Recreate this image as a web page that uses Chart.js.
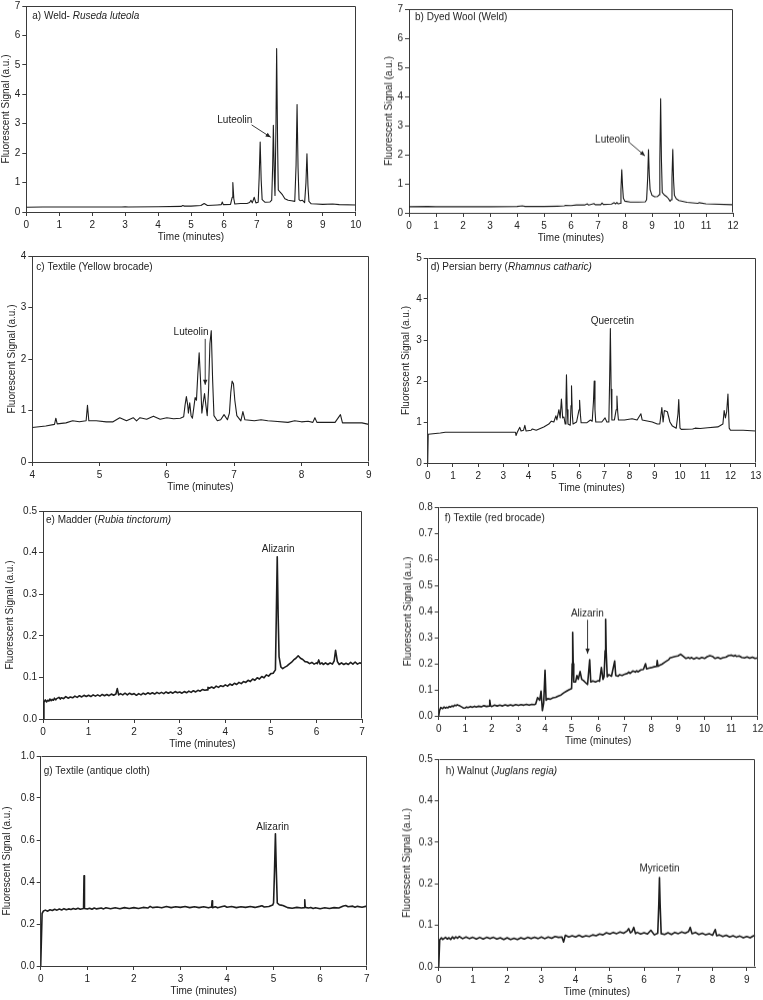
<!DOCTYPE html>
<html><head><meta charset="utf-8">
<script src="https://cdn.jsdelivr.net/npm/chart.js@4/dist/chart.umd.min.js"></script>
<style>
html,body{margin:0;padding:0;background:#fff;width:763px;height:1000px;overflow:hidden;position:relative}
canvas{position:absolute}
</style></head><body>
<script>
// ---------- tick labels ----------
const ticks0to10 = [0,1,2,3,4,5,6,7,8,9,10];
const ticks0to12 = [0,1,2,3,4,5,6,7,8,9,10,11,12];
const ticks4to9 = [4,5,6,7,8,9];
const ticks0to13 = [0,1,2,3,4,5,6,7,8,9,10,11,12,13];
const ticks0to7 = [0,1,2,3,4,5,6,7];
const ticks0to9 = [0,1,2,3,4,5,6,7,8,9];
const yTicks7 = [0,1,2,3,4,5,6,7];
const yTicks4 = [0,1,2,3,4];
const yTicks5 = [0,1,2,3,4,5];
const yTicksHalf = [0,0.1,0.2,0.3,0.4,0.5];
const yTicks08 = [0,0.1,0.2,0.3,0.4,0.5,0.6,0.7,0.8];
const yTicks1 = [0,0.2,0.4,0.6,0.8,1.0];

// ---------- series: [time (min), signal (a.u.)] ----------
const weld = [[0,0.16],[0.5,0.17],[1,0.17],[2,0.17],[2.9,0.17],[3,0.18],[3.1,0.17],[4,0.18],[4.7,0.19],[4.75,0.22],[4.8,0.2],[5,0.2],[5.3,0.22],[5.4,0.29],[5.5,0.22],[5.8,0.24],[5.92,0.25],[5.95,0.34],[5.98,0.25],[6.2,0.26],[6.25,0.5],[6.27,1.0],[6.3,0.45],[6.33,0.27],[6.5,0.29],[6.7,0.29],[6.78,0.32],[6.82,0.4],[6.86,0.31],[6.92,0.5],[6.97,0.31],[7.04,0.33],[7.07,1.2],[7.1,2.38],[7.13,1.1],[7.16,0.42],[7.25,0.33],[7.4,0.34],[7.45,0.4],[7.48,1.6],[7.5,2.95],[7.53,1.2],[7.55,0.56],[7.58,3.0],[7.6,5.55],[7.63,2.2],[7.65,0.75],[7.7,0.68],[7.78,0.58],[7.85,0.45],[7.95,0.4],[8.05,0.38],[8.15,0.36],[8.19,1.6],[8.22,3.65],[8.25,1.5],[8.28,0.42],[8.32,0.38],[8.38,0.4],[8.45,0.32],[8.49,1.0],[8.52,1.98],[8.55,0.9],[8.58,0.36],[8.65,0.28],[8.8,0.27],[9,0.26],[9.3,0.27],[9.5,0.25],[10,0.24]];

const dyedWool = [[0,0.21],[0.7,0.22],[1,0.21],[2,0.21],[3,0.21],[4,0.22],[4.2,0.24],[4.3,0.22],[5,0.22],[5.5,0.23],[5.75,0.24],[5.8,0.26],[6,0.25],[6.2,0.27],[6.5,0.27],[6.6,0.31],[6.65,0.27],[6.85,0.32],[6.9,0.28],[7.1,0.28],[7.15,0.34],[7.2,0.29],[7.5,0.3],[7.6,0.35],[7.65,0.31],[7.7,0.36],[7.75,0.31],[7.82,0.33],[7.85,0.8],[7.88,1.48],[7.91,0.9],[7.94,0.5],[8.0,0.4],[8.2,0.37],[8.5,0.37],[8.75,0.38],[8.8,0.45],[8.84,1.2],[8.87,2.17],[8.9,1.3],[8.93,0.8],[9.0,0.6],[9.1,0.55],[9.2,0.56],[9.26,0.62],[9.29,1.8],[9.32,3.92],[9.35,1.8],[9.38,0.7],[9.45,0.62],[9.55,0.55],[9.6,0.5],[9.67,0.4],[9.71,0.45],[9.74,1.2],[9.77,2.18],[9.8,1.1],[9.83,0.6],[9.9,0.48],[10,0.42],[10.3,0.36],[10.7,0.33],[10.75,0.35],[11,0.31],[12,0.28]];

const yellowBrocade = [[4.0,0.67],[4.2,0.7],[4.33,0.73],[4.35,0.85],[4.37,0.74],[4.5,0.76],[4.6,0.8],[4.7,0.78],[4.8,0.8],[4.82,1.1],[4.84,0.8],[4.95,0.8],[5.1,0.78],[5.2,0.78],[5.25,0.82],[5.3,0.86],[5.35,0.83],[5.4,0.8],[5.5,0.86],[5.55,0.8],[5.6,0.86],[5.7,0.83],[5.8,0.89],[5.9,0.83],[6.0,0.86],[6.1,0.84],[6.2,0.85],[6.25,0.88],[6.27,1.1],[6.29,1.27],[6.31,1.1],[6.32,0.95],[6.34,1.15],[6.36,0.9],[6.38,0.85],[6.4,1.05],[6.42,1.25],[6.44,1.2],[6.46,1.7],[6.48,2.12],[6.5,1.6],[6.52,0.95],[6.54,1.15],[6.56,1.33],[6.58,1.1],[6.6,0.9],[6.62,1.4],[6.64,2.3],[6.66,2.55],[6.68,1.6],[6.7,0.9],[6.75,0.8],[6.8,0.82],[6.85,0.92],[6.9,0.82],[6.93,0.95],[6.95,1.35],[6.97,1.57],[6.99,1.52],[7.01,1.2],[7.04,0.9],[7.1,0.8],[7.13,0.98],[7.16,0.82],[7.3,0.8],[7.4,0.82],[7.5,0.8],[7.6,0.79],[7.8,0.77],[7.9,0.8],[8.0,0.78],[8.1,0.79],[8.17,0.77],[8.2,0.86],[8.23,0.77],[8.5,0.77],[8.58,0.92],[8.61,0.76],[8.9,0.76],[9,0.73]];

const persianBerry = [[0,0],[0.02,0.7],[0.5,0.73],[0.7,0.75],[1,0.75],[2,0.75],[3,0.75],[3.48,0.75],[3.5,0.67],[3.55,0.75],[3.65,0.87],[3.7,0.78],[3.8,0.8],[3.85,0.92],[3.9,0.78],[4.1,0.8],[4.15,0.83],[4.3,0.8],[4.6,0.88],[4.8,0.95],[4.9,1.02],[5.0,1.0],[5.08,1.15],[5.12,1.05],[5.2,1.3],[5.25,1.1],[5.3,1.56],[5.35,1.1],[5.4,1.12],[5.45,0.95],[5.48,1.5],[5.5,2.15],[5.53,1.3],[5.56,0.95],[5.65,0.92],[5.68,1.4],[5.7,1.88],[5.73,1.2],[5.76,0.95],[5.9,1.0],[6.0,1.3],[6.02,1.53],[6.05,1.2],[6.08,0.98],[6.3,0.98],[6.45,1.05],[6.52,1.02],[6.57,1.5],[6.6,2.0],[6.63,1.3],[6.66,1.0],[6.9,1.0],[7.03,1.1],[7.1,1.0],[7.18,1.0],[7.21,2.0],[7.24,3.28],[7.27,1.8],[7.3,1.05],[7.4,1.05],[7.47,1.3],[7.5,1.63],[7.53,1.25],[7.56,1.05],[7.8,1.05],[8.1,1.08],[8.3,1.05],[8.45,1.2],[8.5,1.05],[8.9,1.0],[9.1,0.95],[9.2,0.95],[9.28,1.35],[9.33,1.0],[9.38,1.28],[9.5,1.25],[9.6,1.0],[9.7,0.9],[9.85,0.85],[9.92,1.2],[9.95,1.55],[9.98,1.1],[10.0,0.85],[10.05,0.82],[10.5,0.83],[10.6,0.85],[10.8,0.84],[11.1,0.86],[11.5,0.88],[11.7,0.95],[11.75,1.28],[11.8,1.1],[11.85,1.25],[11.9,1.68],[11.95,0.85],[12.0,0.8],[12.5,0.8],[13,0.78]];

const madder = [[0,0],[0.02,0.040],[0.05,0.046],[0.08,0.041],[0.1,0.045],[0.13,0.043],[0.15,0.048],[0.18,0.044],[0.2,0.047],[0.23,0.045],[0.25,0.050],[0.28,0.046],[0.3,0.049],[0.35,0.052],[0.38,0.048],[0.4,0.051],[0.45,0.049],[0.5,0.054],[0.55,0.050],[0.6,0.053],[0.65,0.051],[0.7,0.055],[0.75,0.052],[0.8,0.056],[0.85,0.053],[0.9,0.057],[0.95,0.054],[1.0,0.057],[1.05,0.054],[1.1,0.058],[1.15,0.055],[1.2,0.058],[1.25,0.055],[1.3,0.059],[1.35,0.056],[1.4,0.059],[1.45,0.056],[1.5,0.060],[1.55,0.057],[1.6,0.060],[1.63,0.073],[1.66,0.058],[1.7,0.061],[1.75,0.058],[1.8,0.062],[1.85,0.058],[1.9,0.062],[1.95,0.059],[2.0,0.061],[2.05,0.057],[2.1,0.061],[2.15,0.058],[2.2,0.062],[2.25,0.059],[2.3,0.063],[2.35,0.060],[2.4,0.063],[2.45,0.060],[2.5,0.064],[2.55,0.061],[2.6,0.064],[2.65,0.061],[2.7,0.065],[2.75,0.062],[2.8,0.065],[2.85,0.062],[2.9,0.066],[2.95,0.063],[3.0,0.065],[3.05,0.062],[3.1,0.066],[3.15,0.063],[3.2,0.067],[3.25,0.064],[3.3,0.068],[3.35,0.065],[3.4,0.069],[3.45,0.067],[3.5,0.071],[3.55,0.069],[3.6,0.070],[3.62,0.076],[3.65,0.074],[3.7,0.077],[3.75,0.074],[3.8,0.079],[3.85,0.076],[3.9,0.080],[3.95,0.078],[4.0,0.082],[4.05,0.079],[4.1,0.084],[4.15,0.081],[4.2,0.086],[4.25,0.083],[4.3,0.088],[4.35,0.085],[4.4,0.090],[4.45,0.088],[4.5,0.093],[4.55,0.090],[4.6,0.096],[4.65,0.093],[4.7,0.099],[4.75,0.096],[4.8,0.102],[4.85,0.099],[4.9,0.106],[4.95,0.103],[5.0,0.109],[5.05,0.110],[5.1,0.118],[5.12,0.25],[5.14,0.390],[5.16,0.25],[5.18,0.150],[5.22,0.125],[5.26,0.121],[5.3,0.124],[5.35,0.127],[5.4,0.132],[5.45,0.136],[5.5,0.142],[5.55,0.146],[5.6,0.152],[5.65,0.146],[5.7,0.143],[5.75,0.138],[5.8,0.137],[5.85,0.133],[5.9,0.136],[5.95,0.132],[6.0,0.135],[6.02,0.133],[6.05,0.142],[6.08,0.132],[6.12,0.135],[6.15,0.131],[6.2,0.135],[6.25,0.131],[6.3,0.135],[6.35,0.132],[6.39,0.140],[6.42,0.165],[6.46,0.138],[6.5,0.131],[6.55,0.135],[6.6,0.131],[6.65,0.134],[6.7,0.131],[6.75,0.136],[6.8,0.132],[6.85,0.137],[6.9,0.132],[6.95,0.135],[7.0,0.133]];

const redBrocade = [[0,0],[0.03,0.02],[0.08,0.032],[0.15,0.028],[0.2,0.034],[0.25,0.030],[0.3,0.033],[0.35,0.031],[0.4,0.036],[0.45,0.034],[0.5,0.038],[0.55,0.036],[0.6,0.041],[0.65,0.039],[0.7,0.043],[0.75,0.040],[0.8,0.038],[0.85,0.035],[0.9,0.032],[0.95,0.030],[1.0,0.031],[1.05,0.034],[1.1,0.032],[1.2,0.036],[1.25,0.033],[1.35,0.037],[1.4,0.034],[1.5,0.037],[1.6,0.035],[1.7,0.039],[1.8,0.036],[1.9,0.038],[1.92,0.060],[1.95,0.038],[2.0,0.036],[2.1,0.041],[2.2,0.038],[2.3,0.041],[2.4,0.038],[2.5,0.042],[2.6,0.039],[2.7,0.042],[2.8,0.039],[2.9,0.043],[3.0,0.040],[3.1,0.043],[3.2,0.041],[3.3,0.044],[3.4,0.041],[3.5,0.044],[3.6,0.043],[3.65,0.046],[3.72,0.070],[3.8,0.060],[3.85,0.095],[3.9,0.020],[3.95,0.050],[4.0,0.175],[4.04,0.060],[4.1,0.066],[4.2,0.064],[4.3,0.069],[4.4,0.071],[4.5,0.076],[4.6,0.080],[4.7,0.088],[4.8,0.094],[4.9,0.100],[5.0,0.105],[5.02,0.2],[5.04,0.320],[5.06,0.2],[5.08,0.130],[5.15,0.130],[5.2,0.155],[5.25,0.140],[5.32,0.170],[5.38,0.140],[5.45,0.135],[5.5,0.130],[5.6,0.120],[5.68,0.215],[5.72,0.130],[5.8,0.134],[5.9,0.130],[6.0,0.135],[6.05,0.132],[6.12,0.185],[6.18,0.140],[6.22,0.150],[6.26,0.25],[6.28,0.370],[6.3,0.25],[6.34,0.150],[6.4,0.158],[6.5,0.152],[6.62,0.210],[6.66,0.155],[6.75,0.152],[6.8,0.158],[6.9,0.155],[7.0,0.160],[7.1,0.163],[7.15,0.168],[7.2,0.163],[7.3,0.172],[7.4,0.168],[7.45,0.173],[7.5,0.169],[7.6,0.176],[7.7,0.178],[7.78,0.200],[7.82,0.180],[7.9,0.183],[8.0,0.185],[8.1,0.188],[8.2,0.190],[8.22,0.212],[8.25,0.190],[8.3,0.193],[8.4,0.198],[8.5,0.205],[8.6,0.212],[8.65,0.215],[8.7,0.222],[8.8,0.225],[8.9,0.228],[9.0,0.230],[9.1,0.236],[9.2,0.228],[9.3,0.220],[9.4,0.224],[9.45,0.220],[9.5,0.224],[9.6,0.218],[9.7,0.223],[9.8,0.219],[9.9,0.224],[10.0,0.220],[10.1,0.227],[10.2,0.231],[10.3,0.228],[10.35,0.224],[10.4,0.220],[10.5,0.224],[10.6,0.219],[10.7,0.223],[10.8,0.225],[10.9,0.231],[11.0,0.233],[11.1,0.229],[11.15,0.232],[11.2,0.228],[11.3,0.230],[11.4,0.224],[11.5,0.222],[11.6,0.226],[11.7,0.221],[11.8,0.225],[11.9,0.220],[12.0,0.222]];

const antiqueCloth = [[0,0],[0.03,0.25],[0.06,0.262],[0.1,0.266],[0.15,0.261],[0.2,0.268],[0.25,0.264],[0.3,0.27],[0.35,0.266],[0.4,0.271],[0.45,0.267],[0.5,0.273],[0.55,0.268],[0.6,0.272],[0.65,0.269],[0.7,0.274],[0.75,0.27],[0.8,0.275],[0.85,0.27],[0.92,0.274],[0.93,0.43],[0.94,0.274],[1.0,0.271],[1.05,0.275],[1.1,0.27],[1.15,0.276],[1.2,0.272],[1.3,0.276],[1.35,0.272],[1.4,0.277],[1.5,0.273],[1.6,0.277],[1.7,0.273],[1.8,0.278],[1.9,0.274],[2.0,0.278],[2.1,0.274],[2.2,0.279],[2.3,0.276],[2.35,0.284],[2.4,0.278],[2.5,0.281],[2.6,0.277],[2.7,0.283],[2.8,0.278],[2.9,0.282],[3.0,0.279],[3.1,0.283],[3.2,0.278],[3.3,0.282],[3.4,0.278],[3.5,0.282],[3.6,0.277],[3.67,0.281],[3.68,0.31],[3.69,0.278],[3.75,0.282],[3.8,0.277],[3.9,0.283],[3.95,0.286],[4.0,0.28],[4.1,0.283],[4.2,0.278],[4.3,0.282],[4.4,0.279],[4.5,0.283],[4.6,0.279],[4.7,0.284],[4.75,0.287],[4.8,0.281],[4.9,0.283],[4.98,0.29],[5.0,0.30],[5.02,0.45],[5.04,0.63],[5.06,0.45],[5.08,0.30],[5.12,0.292],[5.16,0.29],[5.2,0.288],[5.25,0.283],[5.3,0.278],[5.4,0.275],[5.5,0.279],[5.6,0.276],[5.66,0.278],[5.67,0.315],[5.68,0.279],[5.75,0.276],[5.8,0.279],[5.85,0.274],[5.9,0.277],[6.0,0.273],[6.1,0.277],[6.2,0.274],[6.3,0.278],[6.4,0.276],[6.5,0.286],[6.55,0.288],[6.6,0.282],[6.7,0.285],[6.75,0.28],[6.8,0.284],[6.9,0.28],[7.0,0.285]];

const walnut = [[0,0],[0.03,0.065],[0.08,0.07],[0.12,0.066],[0.2,0.071],[0.25,0.067],[0.3,0.07],[0.35,0.066],[0.4,0.072],[0.45,0.068],[0.5,0.072],[0.55,0.069],[0.6,0.073],[0.7,0.068],[0.8,0.072],[0.9,0.068],[1.0,0.071],[1.1,0.067],[1.2,0.071],[1.3,0.067],[1.4,0.071],[1.5,0.068],[1.6,0.071],[1.7,0.067],[1.8,0.07],[1.9,0.066],[2.0,0.07],[2.1,0.066],[2.2,0.069],[2.3,0.066],[2.4,0.07],[2.5,0.067],[2.6,0.071],[2.7,0.068],[2.8,0.071],[2.9,0.068],[3.0,0.072],[3.1,0.068],[3.2,0.072],[3.3,0.069],[3.4,0.073],[3.5,0.071],[3.6,0.072],[3.65,0.06],[3.7,0.076],[3.8,0.072],[3.9,0.075],[4.0,0.072],[4.1,0.076],[4.2,0.072],[4.3,0.075],[4.4,0.073],[4.5,0.077],[4.6,0.075],[4.7,0.079],[4.8,0.077],[4.9,0.082],[5.0,0.079],[5.1,0.083],[5.2,0.08],[5.3,0.084],[5.4,0.081],[5.5,0.086],[5.55,0.092],[5.6,0.082],[5.65,0.085],[5.7,0.095],[5.75,0.08],[5.8,0.083],[5.9,0.079],[6.0,0.082],[6.1,0.079],[6.2,0.088],[6.3,0.077],[6.4,0.081],[6.43,0.15],[6.45,0.215],[6.47,0.15],[6.5,0.08],[6.6,0.078],[6.7,0.082],[6.8,0.078],[6.9,0.083],[7.0,0.08],[7.1,0.084],[7.2,0.081],[7.3,0.085],[7.35,0.095],[7.4,0.08],[7.5,0.083],[7.6,0.078],[7.7,0.081],[7.8,0.077],[7.9,0.08],[8.0,0.076],[8.08,0.09],[8.12,0.075],[8.2,0.077],[8.3,0.073],[8.4,0.076],[8.5,0.072],[8.6,0.075],[8.7,0.071],[8.8,0.074],[8.9,0.07],[9.0,0.073],[9.1,0.07],[9.2,0.075],[9.25,0.074]];

// ---------- panel setup ----------
const panels = [
 {data:weld, x:[0,10], y:[0,7], xt:ticks0to10, yt:yTicks7, dec:0, col:0, plot:{l:26.3,r:355.7,t:6,b:212}, yTitleX:6.7, lw:1.1,
  title:[['a) Weld- ',false],['Ruseda luteola',true]], tdx:6, tdy:10,
  ann:[{text:'Luteolin', x:6.33, y:3.13, arrow:[6.84,2.96,7.42,2.54]}]},
 {data:dyedWool, x:[0,12], y:[0,7], xt:ticks0to12, yt:yTicks7, dec:0, col:1, plot:{l:409,r:733,t:9,b:212.7}, yTitleX:389.3, lw:1.1,
  title:[['b) Dyed Wool (Weld)',false]], tdx:6, tdy:8,
  ann:[{text:'Luteolin', x:7.54, y:2.52, arrow:[8.16,2.42,8.74,1.96]}]},
 {data:yellowBrocade, x:[4,9], y:[0,4], xt:ticks4to9, yt:yTicks4, dec:0, col:0, plot:{l:32.3,r:368.7,t:256,b:462.3}, yTitleX:12.7, lw:1.1,
  title:[['c) Textile (Yellow brocade)',false]], tdx:4, tdy:11,
  ann:[{text:'Luteolin', x:6.36, y:2.52, arrow:[6.57,2.39,6.57,1.5]}]},
 {data:persianBerry, x:[0,13], y:[0,5], xt:ticks0to13, yt:yTicks5, dec:0, col:1, plot:{l:427.7,r:755.7,t:257.7,b:463.3}, yTitleX:406.7, lw:1.1,
  title:[['d) Persian berry (',false],['Rhamnus catharic)',true]], tdx:3, tdy:9.5,
  ann:[{text:'Quercetin', x:7.32, y:3.46}]},
 {data:madder, x:[0,7], y:[0,0.5], xt:ticks0to7, yt:yTicksHalf, dec:1, col:0, plot:{l:43,r:362,t:510.7,b:719}, yTitleX:10, lw:1.6,
  title:[['e) Madder (',false],['Rubia tinctorum)',true]], tdx:3, tdy:9,
  ann:[{text:'Alizarin', x:5.16, y:0.407}]},
 {data:redBrocade, x:[0,12], y:[0,0.8], xt:ticks0to12, yt:yTicks08, dec:1, col:1, plot:{l:438.7,r:757.7,t:507.3,b:716}, yTitleX:408.3, lw:1.6,
  title:[['f) Textile (red brocade)',false]], tdx:6, tdy:11,
  ann:[{text:'Alizarin', x:5.59, y:0.39, arrow:[5.6,0.368,5.6,0.238]}]},
 {data:antiqueCloth, x:[0,7], y:[0,1], xt:ticks0to7, yt:yTicks1, dec:1, col:0, plot:{l:40.7,r:366.7,t:756,b:966}, yTitleX:7.3, lw:1.6,
  title:[['g) Textile (antique cloth)',false]], tdx:3, tdy:15,
  ann:[{text:'Alizarin', x:4.98, y:0.66}]},
 {data:walnut, x:[0,9.25], y:[0,0.5], xt:ticks0to9, yt:yTicksHalf, dec:1, col:1, plot:{l:438.7,r:755.3,t:759,b:966.7}, yTitleX:407.3, lw:1.6,
  title:[['h) Walnut (',false],['Juglans regia)',true]], tdx:7, tdy:12,
  ann:[{text:'Myricetin', x:6.45, y:0.236}]}
];

const FONT = '"Liberation Sans", Arial, Helvetica, sans-serif';
const INK = '#222';
const AXIS = '#3a3a3a';
Chart.defaults.font.family = FONT;
Chart.defaults.font.size = 10;
Chart.defaults.color = INK;

const decorPlugin = {
  id: 'decor',
  afterDraw(chart) {
    const p = chart.config.options.plugins.decor;
    const {ctx, chartArea: a, scales} = chart;
    ctx.save();
    ctx.strokeStyle = AXIS; ctx.lineWidth = 1;
    const L = Math.round(a.left) + 0.5, R = Math.round(a.right) - 0.5, T = Math.round(a.top) + 0.5, B = Math.round(a.bottom) - 0.5;
    ctx.beginPath(); ctx.moveTo(L, T); ctx.lineTo(R, T); ctx.lineTo(R, B); ctx.stroke();
    ctx.fillStyle = INK; ctx.textBaseline = 'middle'; ctx.textAlign = 'left';
    let tx = a.left + p.tdx; const ty = a.top + p.tdy;
    for (const [txt, it] of p.title) {
      ctx.font = (it ? 'italic ' : '') + '10px ' + FONT;
      ctx.fillText(txt, tx, ty);
      tx += ctx.measureText(txt).width;
    }
    ctx.font = '10px ' + FONT; ctx.textAlign = 'center';
    const xs = scales.x, ys = scales.y;
    for (const an of p.ann) {
      ctx.fillStyle = INK;
      ctx.fillText(an.text, xs.getPixelForValue(an.x), ys.getPixelForValue(an.y));
      if (an.arrow) {
        const x1 = xs.getPixelForValue(an.arrow[0]), y1 = ys.getPixelForValue(an.arrow[1]);
        const x2 = xs.getPixelForValue(an.arrow[2]), y2 = ys.getPixelForValue(an.arrow[3]);
        ctx.strokeStyle = INK; ctx.lineWidth = 0.9;
        ctx.beginPath(); ctx.moveTo(x1, y1); ctx.lineTo(x2, y2); ctx.stroke();
        const ang = Math.atan2(y2 - y1, x2 - x1), hl = 5, hw = 2.2;
        ctx.beginPath();
        ctx.moveTo(x2, y2);
        ctx.lineTo(x2 - hl*Math.cos(ang) + hw*Math.sin(ang), y2 - hl*Math.sin(ang) - hw*Math.cos(ang));
        ctx.lineTo(x2 - hl*Math.cos(ang) - hw*Math.sin(ang), y2 - hl*Math.sin(ang) + hw*Math.cos(ang));
        ctx.closePath(); ctx.fill();
      }
    }
    ctx.restore();
  }
};

panels.forEach((p) => {
  const cL = p.col === 0 ? 0 : 380, cW = p.col === 0 ? 380 : 383;
  const cT = Math.max(0, p.plot.t - 10), cB = p.plot.b + 34;
  const cv = document.createElement('canvas');
  cv.width = cW; cv.height = cB - cT;
  cv.style.left = cL + 'px'; cv.style.top = cT + 'px';
  cv.style.width = cW + 'px'; cv.style.height = (cB - cT) + 'px';
  document.body.appendChild(cv);
  const yW = p.plot.l - cL, xH = cB - p.plot.b;
  const fmt = (v) => p.dec ? Number(v).toFixed(p.dec) : String(v);
  new Chart(cv, {
    type: 'line',
    data: { datasets: [{ data: p.data.map(d => ({x: d[0], y: d[1]})), borderColor: '#1e1e1e', borderWidth: p.lw, pointRadius: 0, tension: 0, fill: false, borderJoinStyle: 'round' }] },
    options: {
      responsive: false, animation: false, devicePixelRatio: 1,
      layout: { padding: { left: 0, bottom: 0, top: p.plot.t - cT, right: (cL + cW) - p.plot.r } },
      plugins: { legend: {display: false}, tooltip: {enabled: false},
        decor: { title: p.title, tdx: p.tdx, tdy: p.tdy, ann: p.ann } },
      scales: {
        x: { type: 'linear', min: p.x[0], max: p.x[1],
          afterBuildTicks: s => { s.ticks = p.xt.map(v => ({value: v})); },
          afterFit: s => { s.height = xH; s.paddingLeft = 0; s.paddingRight = 0; },
          ticks: { autoSkip: false, maxRotation: 0, padding: 3, callback: v => String(v), color: INK },
          grid: { drawOnChartArea: false, tickLength: 4, color: AXIS },
          border: { display: true, color: AXIS },
          title: { display: true, text: 'Time (minutes)', color: INK, font: {size: 10}, padding: {top: 0, bottom: xH - 25.5 - 6} } },
        y: { type: 'linear', min: p.y[0], max: p.y[1],
          afterBuildTicks: s => { s.ticks = p.yt.map(v => ({value: v})); },
          afterFit: s => { s.width = yW; s.paddingTop = 0; s.paddingBottom = 0; },
          ticks: { autoSkip: false, padding: 2, callback: fmt, color: INK },
          grid: { drawOnChartArea: false, tickLength: 4, color: AXIS },
          border: { display: true, color: AXIS },
          title: { display: true, text: 'Fluorescent Signal (a.u.)', color: INK, font: {size: 10}, padding: {top: Math.max(0, p.yTitleX - cL - 6), bottom: 0} } }
      }
    },
    plugins: [decorPlugin]
  });
});
</script>
</body></html>
